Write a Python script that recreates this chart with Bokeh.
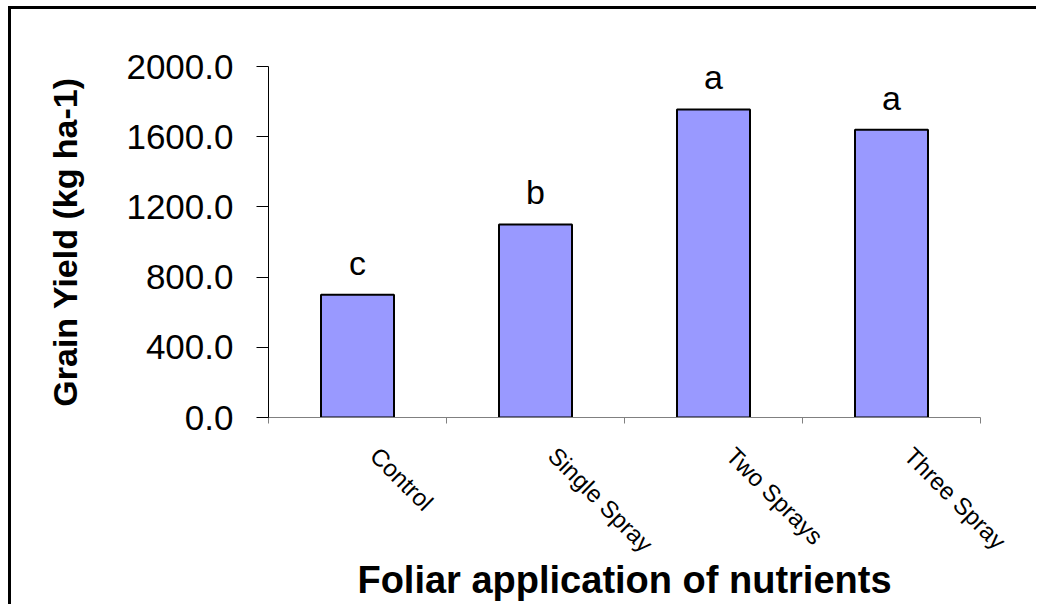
import math
from bokeh.plotting import figure
from bokeh.models import FixedTicker, NumeralTickFormatter, ColumnDataSource
from bokeh.core.properties import value
from bokeh.embed import file_html
from bokeh.resources import INLINE

categories = ["Control", "Single Spray", "Two Sprays", "Three Spray"]
grain_yield = [700.0, 1100.0, 1755.0, 1640.0]
letters = ["c", "b", "a", "a"]
y_ticks = [0, 400, 800, 1200, 1600, 2000]

xpos = [i + 0.5 for i in range(len(categories))]
src = ColumnDataSource(dict(x=xpos, top=grain_yield, lab=letters))

FONT = "Liberation Sans"
LABEL_SHIFT = 0.095  # shift of the rotated category labels to the right

p = figure(width=1028, height=598, output_backend="svg", toolbar_location=None,
           x_range=(0, len(categories)), y_range=(0, 2000),
           min_border_left=257, min_border_top=57, min_border_right=59,
           min_border_bottom=190)
p.styles = {"border-top": "3px solid black", "border-left": "3px solid black",
            "margin-left": "8px", "margin-top": "6px"}
p.outline_line_color = None
p.xgrid.visible = False
p.ygrid.visible = False

p.vbar(x="x", top="top", width=0.41, bottom=0, source=src,
       fill_color="#9999FF", line_color="black", line_width=2)
p.text(x="x", y="top", text="lab", source=src, text_align="center",
       text_baseline="alphabetic", y_offset=-32, text_font=value(FONT),
       text_font_size="34px", text_color="black")

# y axis
ya = p.yaxis[0]
ya.ticker = FixedTicker(ticks=y_ticks)
ya.formatter = NumeralTickFormatter(format="0.0")
ya.major_tick_out = 12
ya.major_tick_in = 0
ya.minor_tick_out = 0
ya.minor_tick_in = 0
ya.axis_line_color = "black"
ya.major_tick_line_color = "black"
ya.major_label_text_font = FONT
ya.major_label_text_font_size = "35px"
ya.major_label_text_color = "black"
ya.major_label_standoff = 23
ya.axis_label = "Grain Yield (kg ha-1)"
ya.axis_label_text_font = FONT
ya.axis_label_text_font_style = "bold"
ya.axis_label_text_font_size = "34px"
ya.axis_label_text_color = "black"
ya.axis_label_standoff = 39

# x axis
label_ticks = [x + LABEL_SHIFT for x in xpos]
xa = p.xaxis[0]
xa.ticker = FixedTicker(ticks=label_ticks, minor_ticks=list(range(len(categories) + 1)))
xa.major_label_overrides = {x: c for x, c in zip(label_ticks, categories)}
xa.major_tick_out = 0
xa.major_tick_in = 0
xa.minor_tick_out = 6
xa.minor_tick_in = 0
xa.axis_line_color = "#808080"
xa.minor_tick_line_color = "#808080"
xa.major_label_orientation = -math.pi / 4
xa.major_label_text_font = FONT
xa.major_label_text_font_size = "24px"
xa.major_label_text_color = "black"
xa.major_label_standoff = 28
xa.axis_label = "Foliar application of nutrients"
xa.axis_label_text_font = FONT
xa.axis_label_text_font_style = "bold"
xa.axis_label_text_font_size = "38px"
xa.axis_label_text_color = "black"
xa.axis_label_standoff = -11

open("out.html", "w").write(file_html(p, INLINE))
